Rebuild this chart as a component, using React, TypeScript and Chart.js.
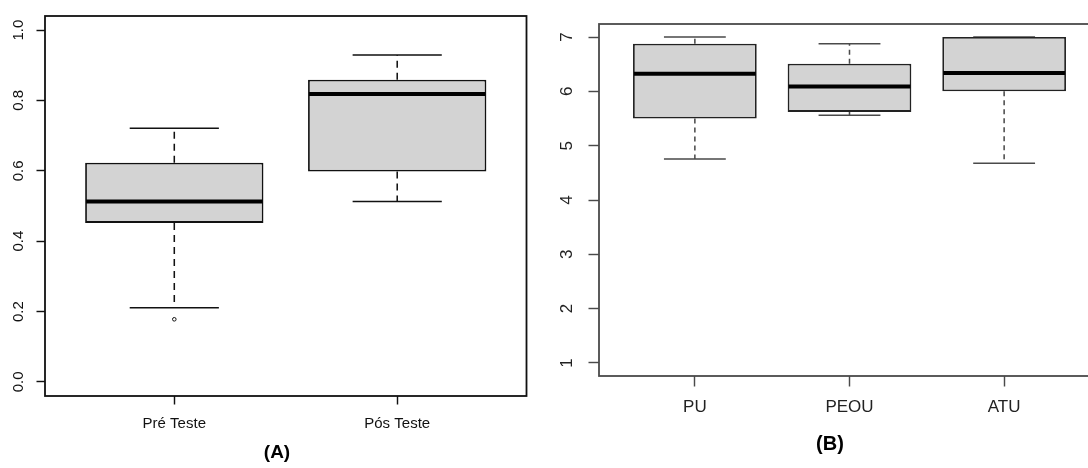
import React, { useEffect, useRef } from 'react';
import { Chart, registerables } from 'chart.js';

Chart.register(...registerables);

const FONT = "'Liberation Sans', Arial, Helvetica, sans-serif";

// ---------- Panel A data ----------
const groupsA = ['Pré Teste', 'Pós Teste'];
const minA = [0.211, 0.513];
const q1A = [0.452, 0.598];
const medA = [0.513, 0.818];
const q3A = [0.623, 0.859];
const maxA = [0.721, 0.929];
const outA: number[][] = [[0.178], []];
const yTicksA = [0, 0.2, 0.4, 0.6, 0.8, 1.0];
const yLimA: [number, number] = [0, 1];
const titleA = '(A)';

// ---------- Panel B data ----------
const groupsB = ['PU', 'PEOU', 'ATU'];
const minB = [4.755, 5.56, 4.675];
const q1B = [5.5, 5.622, 6.0];
const medB = [6.323, 6.09, 6.34];
const q3B = [6.876, 6.508, 7.0];
const maxB = [7.0, 6.876, 7.0];
const outB: number[][] = [[], [], []];
const yTicksB = [1, 2, 3, 4, 5, 6, 7];
const yLimB: [number, number] = [1, 7];
const titleB = '(B)';

interface PanelData {
  groups: string[];
  mins: number[];
  q1s: number[];
  meds: number[];
  q3s: number[];
  maxs: number[];
  outs: number[][];
  yTicks: number[];
  yLim: [number, number];
  yFmt: (v: number) => string;
  title: string;
}

interface PanelStyle {
  width: number;
  height: number;
  padTop: number;
  padRight: number;
  yWidth: number;
  xHeight: number;
  tickLen: number;
  labelPad: number;
  yLabelX: number;
  titleX: number;
  titleY: number;
  tickFont: number;
  titleFont: number;
  textColor: string;
  frameColor: string;
  boxColor: string;
  whiskerColor: string;
  lineWidth: number;
  medianWidth: number;
  dash: number[];
}

const panelA: PanelData = {
  groups: groupsA, mins: minA, q1s: q1A, meds: medA, q3s: q3A, maxs: maxA, outs: outA,
  yTicks: yTicksA, yLim: yLimA, yFmt: (v) => v.toFixed(1), title: titleA,
};
const panelB: PanelData = {
  groups: groupsB, mins: minB, q1s: q1B, meds: medB, q3s: q3B, maxs: maxB, outs: outB,
  yTicks: yTicksB, yLim: yLimB, yFmt: (v) => String(v), title: titleB,
};

const styleA: PanelStyle = {
  width: 540, height: 468, padTop: 16, padRight: 13.5, yWidth: 45, xHeight: 72,
  tickLen: 8.5, labelPad: 10.5, yLabelX: 19, titleX: 277, titleY: 453,
  tickFont: 15, titleFont: 19, textColor: '#111', frameColor: '#111', boxColor: '#111',
  whiskerColor: '#111', lineWidth: 1.8, medianWidth: 4, dash: [7, 5],
};
const styleB: PanelStyle = {
  width: 580, height: 468, padTop: 24, padRight: 20, yWidth: 59, xHeight: 92,
  tickLen: 10.5, labelPad: 11, yLabelX: 27, titleX: 290, titleY: 444,
  tickFont: 17, titleFont: 20, textColor: '#222', frameColor: '#4a4a4a', boxColor: '#222',
  whiskerColor: '#4a4a4a', lineWidth: 1.8, medianWidth: 4, dash: [5, 4],
};

function makeChart(canvas: HTMLCanvasElement, d: PanelData, s: PanelStyle) {
  const n = d.groups.length;
  const xLo = 0.5 - 0.04 * n;
  const xHi = n + 0.5 + 0.04 * n;
  const ySpan = d.yLim[1] - d.yLim[0];
  const yLo = d.yLim[0] - 0.04 * ySpan;
  const yHi = d.yLim[1] + 0.04 * ySpan;

  const extras = {
    id: 'boxExtras',
    beforeDatasetsDraw(chart: any) {
      const { ctx } = chart;
      const x = chart.scales.x;
      const y = chart.scales.y;
      ctx.save();
      ctx.strokeStyle = s.whiskerColor;
      ctx.lineWidth = s.lineWidth * 0.85;
      for (let i = 0; i < n; i++) {
        const px = x.getPixelForValue(i + 1);
        const half = x.getPixelForValue(i + 1 + 0.2) - px;
        ctx.setLineDash(s.dash);
        ctx.beginPath();
        ctx.moveTo(px, y.getPixelForValue(d.q3s[i]));
        ctx.lineTo(px, y.getPixelForValue(d.maxs[i]));
        ctx.moveTo(px, y.getPixelForValue(d.q1s[i]));
        ctx.lineTo(px, y.getPixelForValue(d.mins[i]));
        ctx.stroke();
        ctx.setLineDash([]);
        ctx.beginPath();
        const yMax = y.getPixelForValue(d.maxs[i]);
        const yMin = y.getPixelForValue(d.mins[i]);
        ctx.moveTo(px - half, yMax);
        ctx.lineTo(px + half, yMax);
        ctx.moveTo(px - half, yMin);
        ctx.lineTo(px + half, yMin);
        ctx.stroke();
      }
      ctx.restore();
    },
    afterDatasetsDraw(chart: any) {
      const { ctx } = chart;
      const x = chart.scales.x;
      const y = chart.scales.y;
      ctx.save();
      for (let i = 0; i < n; i++) {
        const px = x.getPixelForValue(i + 1);
        const halfBox = x.getPixelForValue(i + 1 + 0.4) - px;
        const pm = y.getPixelForValue(d.meds[i]);
        ctx.strokeStyle = '#000';
        ctx.lineWidth = s.medianWidth;
        ctx.beginPath();
        ctx.moveTo(px - halfBox + 1, pm);
        ctx.lineTo(px + halfBox - 1, pm);
        ctx.stroke();
        ctx.lineWidth = 1;
        ctx.strokeStyle = s.boxColor;
        for (const o of d.outs[i]) {
          ctx.beginPath();
          ctx.arc(px, y.getPixelForValue(o), 1.8, 0, Math.PI * 2);
          ctx.stroke();
        }
      }
      ctx.restore();
    },
    afterDraw(chart: any) {
      const { ctx, chartArea } = chart;
      const y = chart.scales.y;
      ctx.save();
      ctx.strokeStyle = s.frameColor;
      ctx.lineWidth = s.lineWidth;
      ctx.strokeRect(chartArea.left, chartArea.top, chartArea.right - chartArea.left, chartArea.bottom - chartArea.top);
      ctx.fillStyle = s.textColor;
      ctx.font = `${s.tickFont}px ${FONT}`;
      ctx.textAlign = 'center';
      ctx.textBaseline = 'middle';
      for (const t of d.yTicks) {
        const py = y.getPixelForValue(t);
        ctx.save();
        ctx.translate(s.yLabelX, py);
        ctx.rotate(-Math.PI / 2);
        ctx.fillText(d.yFmt(t), 0, 0);
        ctx.restore();
      }
      ctx.fillStyle = '#000';
      ctx.font = `bold ${s.titleFont}px ${FONT}`;
      ctx.fillText(d.title, s.titleX, s.titleY);
      ctx.restore();
    },
  };

  return new Chart(canvas, {
    type: 'bar',
    data: {
      datasets: [
        {
          data: d.groups.map((_, i) => ({ x: i + 1, y: [d.q1s[i], d.q3s[i]] })) as any,
          backgroundColor: '#d3d3d3',
          borderColor: s.boxColor,
          borderWidth: s.lineWidth,
          borderSkipped: false,
          categoryPercentage: 1,
          barPercentage: 0.8,
        },
      ],
    },
    options: {
      responsive: false,
      animation: false,
      devicePixelRatio: 1,
      events: [],
      layout: { padding: { left: 0, top: s.padTop, right: s.padRight, bottom: 0 } },
      plugins: { legend: { display: false }, tooltip: { enabled: false }, title: { display: false } },
      scales: {
        x: {
          type: 'linear',
          min: xLo,
          max: xHi,
          offset: false,
          border: { display: false },
          grid: {
            display: true,
            drawOnChartArea: false,
            drawTicks: true,
            offset: false,
            tickLength: s.tickLen,
            tickColor: s.frameColor,
            tickWidth: s.lineWidth * 0.8,
          },
          afterBuildTicks: (scale: any) => {
            scale.ticks = d.groups.map((_, i) => ({ value: i + 1 }));
          },
          afterFit: (scale: any) => {
            scale.height = s.xHeight;
          },
          ticks: {
            autoSkip: false,
            maxRotation: 0,
            minRotation: 0,
            padding: s.labelPad,
            color: s.textColor,
            font: { family: FONT, size: s.tickFont },
            callback: (_v: any, i: number) => d.groups[i],
          },
        },
        y: {
          type: 'linear',
          min: yLo,
          max: yHi,
          beginAtZero: false,
          border: { display: false },
          grid: {
            display: true,
            drawOnChartArea: false,
            drawTicks: true,
            tickLength: s.tickLen,
            tickColor: s.frameColor,
            tickWidth: s.lineWidth * 0.8,
          },
          afterBuildTicks: (scale: any) => {
            scale.ticks = d.yTicks.map((v) => ({ value: v }));
          },
          afterFit: (scale: any) => {
            scale.width = s.yWidth;
          },
          ticks: { display: false },
        },
      },
    } as any,
    plugins: [extras],
  });
}

function Panel({ data, style, left }: { data: PanelData; style: PanelStyle; left: number }) {
  const ref = useRef<HTMLCanvasElement | null>(null);
  useEffect(() => {
    if (!ref.current) return;
    const chart = makeChart(ref.current, data, style);
    return () => chart.destroy();
  }, [data, style]);
  return (
    <canvas
      ref={ref}
      width={style.width}
      height={style.height}
      style={{ position: 'absolute', left, top: 0, width: style.width, height: style.height, display: 'block' }}
    />
  );
}

export default function App() {
  return (
    <div
      style={{
        position: 'fixed',
        left: 0,
        top: 0,
        width: 1088,
        height: 468,
        overflow: 'hidden',
        background: '#fff',
      }}
    >
      <Panel data={panelA} style={styleA} left={0} />
      <Panel data={panelB} style={styleB} left={540} />
    </div>
  );
}
